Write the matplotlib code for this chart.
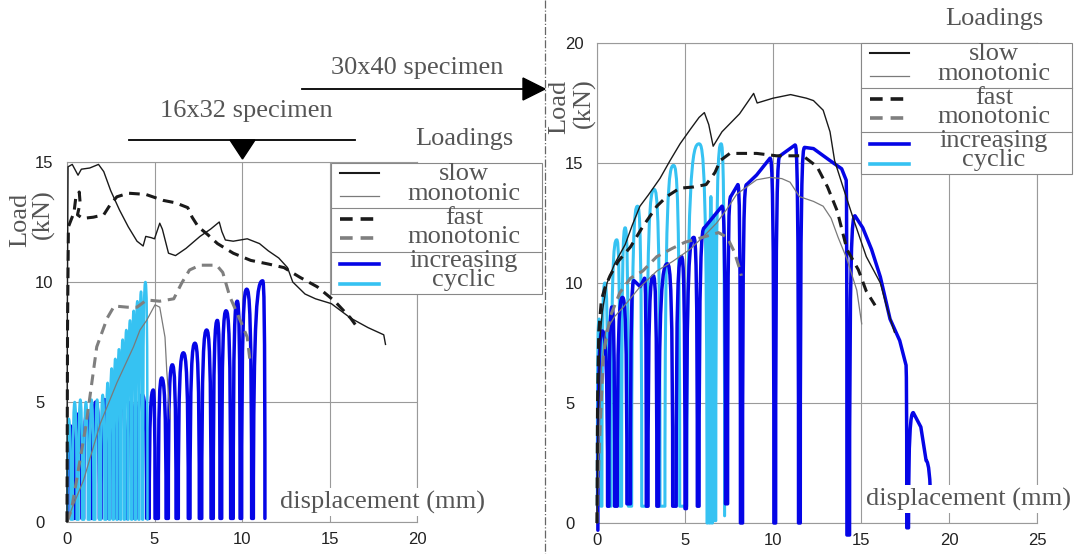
"""Load-displacement curves for 16x32 and 30x40 specimens under three loadings."""

from __future__ import annotations

import matplotlib

matplotlib.use("Agg")

import matplotlib.pyplot as plt
import numpy as np
from matplotlib.patches import PathPatch, Polygon, Rectangle
from matplotlib.path import Path

# ---------------- 16x32 specimen (left panel) ----------------
left_slow_a_x = [0.0, 0.02, 0.06, 0.3, 0.63, 0.82, 1.3, 1.8, 2.1, 2.5, 3.0, 3.5, 4.0, 4.35,
                 4.5, 4.8, 5.0, 5.3, 5.45, 5.8, 6.2, 6.8, 7.6, 8.2, 8.7, 8.85, 9.05, 9.5,
                 10.3, 11.0, 11.5, 12.1, 12.6, 12.9, 13.6, 14.2, 15.1, 16.2, 17.2, 18.1, 18.2]
left_slow_a_y = [0.0, 9.0, 14.8, 14.9, 14.45, 14.7, 14.75, 14.9, 14.6, 13.8, 13.0, 12.3, 11.7,
                 11.5, 11.9, 11.85, 11.8, 12.45, 12.2, 11.2, 11.1, 11.4, 11.9, 12.2, 12.5, 12.1,
                 11.75, 11.7, 11.8, 11.6, 11.3, 11.0, 10.6, 10.0, 9.5, 9.3, 9.1, 8.5, 8.1, 7.8, 7.4]
left_slow_b_x = [0.0, 0.3, 0.95, 1.9, 2.85, 3.8, 4.17, 4.55, 5.03, 5.3, 5.6, 5.7, 5.9]
left_slow_b_y = [0.0, 0.6, 1.75, 4.1, 5.8, 7.3, 8.0, 8.4, 9.05, 8.95, 7.7, 6.3, 4.3]
left_fast_a_x = [0.0, 0.03, 0.08, 0.4, 0.5, 0.7, 0.75, 0.6, 0.9, 1.5, 2.1, 2.45, 2.85, 3.5,
                 4.5, 5.5, 6.2, 6.9, 7.15, 7.5, 8.0, 8.6, 9.5, 10.5, 11.5, 12.4, 13.3, 14.3,
                 15.3, 16.2, 16.6]
left_fast_a_y = [0.0, 8.0, 12.3, 12.9, 13.5, 13.75, 13.3, 12.8, 12.65, 12.7, 12.8, 13.2, 13.55,
                 13.7, 13.65, 13.4, 13.3, 13.1, 12.7, 12.3, 12.0, 11.6, 11.2, 10.9, 10.75, 10.6,
                 10.2, 9.8, 9.2, 8.5, 8.1]
left_fast_b_x = [0.0, 0.25, 0.55, 1.1, 1.7, 2.3, 2.7, 3.45, 4.0, 4.55, 5.3, 6.1, 6.55, 7.0,
                 7.6, 8.55, 8.9, 9.3, 9.9, 10.3, 10.45]
left_fast_b_y = [0.0, 0.5, 1.75, 4.1, 7.3, 8.5, 9.0, 8.95, 8.95, 9.25, 9.2, 9.3, 9.95, 10.5,
                 10.7, 10.7, 10.4, 9.4, 8.4, 7.7, 6.75]

# cycles: left foot, right foot, peak(s) and the load the curve comes back to
left_cyc_a_left = [0.05, 0.45, 0.95, 1.45, 1.95, 2.45, 2.95, 3.45, 3.95, 4.70, 5.22, 5.79,
                   6.36, 7.03, 7.70, 8.36, 8.84, 9.50, 9.98, 10.65]
left_cyc_a_right = [0.35, 0.85, 1.35, 1.85, 2.35, 2.85, 3.35, 3.85, 4.55, 5.03, 5.66, 6.23,
                    6.93, 7.56, 8.23, 8.74, 9.35, 9.89, 10.55, 11.31]
left_cyc_a_peak_x = [0.2, 0.65, 1.15, 1.65, 2.15, 2.65, 3.15, 3.65, 4.3, 4.93, 5.41, 6.02,
                     6.65, 7.31, 7.98, 8.59, 9.09, 9.73, 10.27, 11.18]
left_cyc_a_peak_y = [4.0, 4.5, 4.6, 5.0, 5.1, 5.0, 5.0, 5.0, 5.3, 5.5, 6.0, 6.55, 7.05, 7.45,
                     8.0, 8.4, 8.8, 9.2, 9.7, 10.05]
left_cyc_a_valley = 0.15

left_cyc_b_left = [0.02, 0.33, 0.66, 0.98, 1.30, 1.62, 1.94, 2.24, 2.46, 2.67, 2.88, 3.09,
                   3.30, 3.51, 3.72, 3.93, 4.14, 4.35]
left_cyc_b_right = [0.22, 0.55, 0.87, 1.19, 1.51, 1.83, 2.14, 2.40, 2.62, 2.83, 3.04, 3.25,
                    3.46, 3.67, 3.88, 4.09, 4.30, 4.60]
left_cyc_b_peak_x = [0.10, 0.44, 0.76, 1.08, 1.40, 1.72, 2.04, 2.32, 2.55, 2.76, 2.97, 3.18,
                     3.39, 3.60, 3.81, 4.02, 4.23, 4.48]
left_cyc_b_peak_y = [4.3, 5.0, 5.1, 5.0, 5.1, 5.1, 5.3, 5.8, 6.4, 6.8, 7.2, 7.6, 8.0, 8.4,
                     8.8, 9.2, 9.6, 10.0]
left_cyc_b_valley = 0.1

# ---------------- 30x40 specimen (right panel) ----------------
right_slow_a_x = [0.0, 0.05, 0.15, 0.3, 0.57, 1.0, 1.6, 2.0, 2.44, 2.92, 3.58, 4.15, 4.72,
                  5.3, 5.8, 6.1, 6.35, 6.6, 7.1, 8.1, 8.9, 9.1, 10.0, 11.0, 11.9, 12.3, 12.85,
                  13.24, 13.5, 14.0, 14.6, 15.3, 16.1, 16.5, 16.9]
right_slow_a_y = [0.0, 4.0, 7.5, 8.8, 10.0, 10.8, 11.6, 12.4, 13.2, 13.67, 14.36, 15.1, 15.8,
                  16.4, 16.9, 17.1, 16.6, 15.7, 16.3, 17.05, 17.9, 17.5, 17.7, 17.85, 17.7,
                  17.6, 17.2, 16.3, 15.1, 13.95, 12.6, 11.1, 10.0, 8.9, 7.95]
right_slow_b_x = [0.0, 0.1, 0.25, 0.5, 1.0, 1.5, 2.4, 3.4, 4.3, 5.28, 6.0, 6.8, 7.4, 7.94,
                  8.5, 9.07, 9.83, 10.5, 10.97, 11.5, 12.3, 12.85, 13.3, 13.7, 14.2, 14.76, 15.04]
right_slow_b_y = [0.0, 3.0, 6.5, 8.0, 8.6, 9.0, 9.8, 10.5, 10.9, 11.4, 11.9, 12.5, 13.1, 13.7,
                  14.0, 14.3, 14.4, 14.35, 14.2, 13.6, 13.4, 13.2, 12.7, 11.9, 11.0, 9.7, 8.3]
right_fast_a_x = [0.0, 0.03, 0.1, 0.25, 0.45, 0.74, 1.2, 1.9, 2.6, 3.4, 3.96, 4.7, 5.47, 6.2,
                  6.7, 7.0, 7.55, 9.07, 10.2, 11.7, 12.5, 13.1, 13.65, 14.2, 14.85, 15.3, 15.8]
right_fast_a_y = [0.0, 5.0, 8.0, 9.3, 9.8, 10.3, 10.9, 11.5, 12.35, 13.2, 13.6, 13.95, 14.0,
                  14.1, 14.6, 15.1, 15.4, 15.4, 15.3, 15.3, 14.85, 14.0, 13.0, 11.4, 10.55,
                  9.66, 9.07]
right_fast_b_x = [0.0, 0.15, 0.36, 0.75, 1.3, 1.9, 2.6, 3.4, 4.3, 5.0, 6.0, 6.9, 7.4, 7.8,
                  8.1, 8.2]
right_fast_b_y = [0.0, 3.5, 7.0, 8.6, 9.6, 10.2, 10.5, 11.1, 11.45, 11.7, 11.9, 12.1, 11.9,
                  11.3, 10.6, 10.3]

right_cyc_a_left = [0.05, 0.68, 1.15, 1.9, 2.9, 3.5, 4.5, 5.08, 5.8, 7.42, 8.27, 10.15, 11.55,
                    14.35, 17.7]
right_cyc_a_right = [0.6, 1.0, 1.7, 2.8, 3.4, 4.3, 5.0, 5.7, 7.3, 8.15, 10.05, 11.45, 14.2,
                     17.6, 18.95]
right_cyc_a_peak_x = [[0.3], [0.85], [1.45], [2.1, 2.45, 2.7], [3.2], [4.0], [4.8], [5.5],
                      [6.1, 6.6, 7.1], [7.6, 8.0], [8.5, 9.07, 9.83], [10.4, 11.25],
                      [11.8, 12.3, 13.24, 13.9, 14.15],
                      [14.66, 15.1, 15.6, 16.1, 16.65, 17.2, 17.55], [17.97, 18.4, 18.7]]
right_cyc_a_peak_y = [[8.0], [9.0], [9.4], [10.1, 9.85, 10.2], [10.3], [10.8], [11.1], [11.9],
                      [12.3, 12.75, 13.2], [13.6, 14.1], [14.1, 14.5, 15.2], [15.3, 15.75],
                      [15.65, 15.6, 15.1, 14.76, 14.3],
                      [12.8, 12.3, 11.4, 10.25, 8.5, 7.6, 6.6], [4.6, 4.0, 2.6]]
right_cyc_a_valley = [-0.3, 0.7, 0.7, 0.8, 0.7, 0.7, 0.7, 0.6, 0.7, 0.8, 0.0, 0.0, 0.0, -0.5,
                      -0.2, 0.8]

right_cyc_b_left = [0.02, 0.28, 0.8, 1.40, 1.97, 2.82, 3.86, 5.10, 6.28, 6.42, 6.56, 6.75]
right_cyc_b_right = [0.22, 0.62, 1.31, 1.78, 2.54, 3.58, 4.70, 6.25, 6.38, 6.52, 6.68, 7.25]
right_cyc_b_peak_x = [0.12, 0.45, 1.12, 1.60, 2.30, 3.25, 4.35, 5.80, 6.33, 6.47, 6.62, 7.05]
right_cyc_b_peak_y = [8.5, 10.0, 11.8, 12.3, 13.2, 13.9, 14.9, 15.8, 12.5, 13.6, 12.8, 15.8]
right_cyc_b_valley = [0.7, 0.7, 0.7, 0.7, 0.7, 0.7, 0.7, 0.7, 0.0, 0.0, 0.0, 0.1, 0.3]

left_x_ticks = [0, 5, 10, 15, 20]
left_y_ticks = [0, 5, 10, 15]
right_x_ticks = [0, 5, 10, 15, 20, 25]
right_y_ticks = [0, 5, 10, 15, 20]

legend_words = ["slow", "monotonic", "fast", "monotonic", "increasing", "cyclic"]

# ---------------- styles ----------------
SERIF = "Liberation Serif"
TEXT_GREY = "#555555"
GRID_GREY = "#9a9a9a"
TEXT_SIZE = 19
DASH = (0, (3.5, 2.2))
SLOW_A = dict(color="#1a1a1a", lw=1.0, ls="-")
SLOW_B = dict(color="#7a7a7a", lw=0.9, ls="-")
FAST_A = dict(color="#1a1a1a", lw=2.2, ls=DASH)
FAST_B = dict(color="#7f7f7f", lw=2.2, ls=DASH)
CYC_A = dict(color="#0505e6", lw=2.5, ls="-")
CYC_B = dict(color="#36c2f2", lw=2.2, ls="-")
BEND = 0.8  # how far below a peak the legs start to round over (kN)

plt.rcParams["font.family"] = ["Liberation Sans", "DejaVu Sans"]


def cycle_path(left, right, peak_x, peak_y, valley) -> Path:
    """Build one smooth path of load/unload cycles from feet, peaks and valleys."""
    count = len(left)
    valley = np.broadcast_to(np.asarray(valley, dtype=float), (count + 1,))
    verts: list[tuple[float, float]] = []
    codes: list[int] = []
    for index in range(count):
        tops_x = np.atleast_1d(peak_x[index])
        tops_y = np.atleast_1d(peak_y[index])
        x0, x1 = left[index], right[index]
        b0, b1 = valley[index], valley[index + 1]
        verts.append((x0, b0))
        codes.append(Path.MOVETO if index == 0 else Path.LINETO)
        verts += [(x0, max(b0, tops_y[0] - BEND)),
                  (tops_x[0] - 0.55 * (tops_x[0] - x0), tops_y[0]),
                  (tops_x[0], tops_y[0])]
        codes += [Path.CURVE4] * 3
        for top_x, top_y in zip(tops_x[1:], tops_y[1:]):
            verts.append((top_x, top_y))
            codes.append(Path.LINETO)
        verts += [(tops_x[-1] + 0.55 * (x1 - tops_x[-1]), tops_y[-1]),
                  (x1, max(b1, tops_y[-1] - BEND)),
                  (x1, b1)]
        codes += [Path.CURVE4] * 3
    return Path(verts, codes)


def draw_cycles(axis, left, right, peak_x, peak_y, valley, style, zorder, lw=None) -> None:
    patch = PathPatch(
        cycle_path(left, right, peak_x, peak_y, valley),
        fill=False,
        edgecolor=style["color"],
        lw=lw or style["lw"],
        joinstyle="round",
        capstyle="round",
        clip_on=False,
        zorder=zorder,
    )
    axis.add_patch(patch)


def draw_curve(axis, x, y, style, zorder) -> None:
    axis.plot(x, y, color=style["color"], lw=style["lw"], ls=style["ls"],
              solid_joinstyle="round", clip_on=False, zorder=zorder)


def setup_axis(axis, x_ticks, y_ticks) -> None:
    axis.set_xlim(x_ticks[0], x_ticks[-1])
    axis.set_ylim(y_ticks[0], y_ticks[-1])
    axis.set_xticks(x_ticks, labels=[str(t) for t in x_ticks])
    axis.set_yticks(y_ticks, labels=[str(t) for t in y_ticks], ha="left")
    axis.tick_params(length=0, labelsize=12, labelcolor="#222222")
    axis.tick_params(axis="x", pad=7)
    axis.tick_params(axis="y", pad=23)
    axis.grid(True, color=GRID_GREY, lw=0.8)
    axis.set_axisbelow(True)
    for spine in axis.spines.values():
        spine.set_color(GRID_GREY)
        spine.set_linewidth(0.8)


def draw_legend(overlay, x0: float, y0: float) -> None:
    """Boxed legend in pixel units, top-left corner at (x0, y0)."""
    overlay.add_patch(Rectangle((x0, y0), 211, 131, facecolor="white",
                                edgecolor="#888888", lw=0.8, zorder=10))
    for offset in (45, 89):
        overlay.plot([x0, x0 + 211], [y0 + offset, y0 + offset], color="#888888",
                     lw=0.8, zorder=11)
    styles = [SLOW_A, SLOW_B, FAST_A, FAST_B, CYC_A, CYC_B]
    widths = [1.5, 0.9, 2.6, 2.6, 2.6, 2.6]
    handle_rows = [10, 33, 56, 75, 101, 121]
    text_rows = [11, 31, 55, 74, 98, 117]
    for style, width, row in zip(styles, widths, handle_rows):
        overlay.plot([x0 + 9, x0 + 48], [y0 + row, y0 + row], color=style["color"],
                     lw=width, ls=style["ls"], zorder=12)
    for word, row in zip(legend_words, text_rows):
        overlay.text(x0 + 133, y0 + row, word, ha="center", va="center", fontsize=TEXT_SIZE,
                     family=SERIF, color=TEXT_GREY, zorder=12)
    overlay.text(x0 + 133, y0 - 24, "Loadings", ha="center", va="center", fontsize=TEXT_SIZE,
                 family=SERIF, color=TEXT_GREY, zorder=12)


figure = plt.figure(figsize=(10.8, 5.54), dpi=100)
axis_left = figure.add_axes([67 / 1080, 32 / 554, 350 / 1080, 360 / 554])
axis_right = figure.add_axes([597 / 1080, 31 / 554, 440 / 1080, 480 / 554])
setup_axis(axis_left, left_x_ticks, left_y_ticks)
setup_axis(axis_right, right_x_ticks, right_y_ticks)

draw_cycles(axis_left, left_cyc_a_left, left_cyc_a_right, left_cyc_a_peak_x,
            left_cyc_a_peak_y, left_cyc_a_valley, CYC_A, 3)
draw_cycles(axis_left, left_cyc_b_left, left_cyc_b_right, left_cyc_b_peak_x,
            left_cyc_b_peak_y, left_cyc_b_valley, CYC_B, 4, lw=1.8)
draw_curve(axis_left, left_slow_b_x, left_slow_b_y, SLOW_B, 5)
draw_curve(axis_left, left_fast_b_x, left_fast_b_y, FAST_B, 5)
draw_curve(axis_left, left_fast_a_x, left_fast_a_y, FAST_A, 6)
draw_curve(axis_left, left_slow_a_x, left_slow_a_y, SLOW_A, 6)

draw_cycles(axis_right, right_cyc_b_left, right_cyc_b_right, right_cyc_b_peak_x,
            right_cyc_b_peak_y, right_cyc_b_valley, CYC_B, 3)
draw_cycles(axis_right, right_cyc_a_left, right_cyc_a_right, right_cyc_a_peak_x,
            right_cyc_a_peak_y, right_cyc_a_valley, CYC_A, 4)
draw_curve(axis_right, right_slow_b_x, right_slow_b_y, SLOW_B, 5)
draw_curve(axis_right, right_fast_b_x, right_fast_b_y, FAST_B, 5)
draw_curve(axis_right, right_fast_a_x, right_fast_a_y, FAST_A, 6)
draw_curve(axis_right, right_slow_a_x, right_slow_a_y, SLOW_A, 6)

# overlay in pixel units for the annotations and the boxed legends
overlay = figure.add_axes([0, 0, 1, 1])
overlay.set_xlim(0, 1080)
overlay.set_ylim(554, 0)
overlay.axis("off")

overlay.plot([545, 545], [0, 554], color="#666666", lw=0.9, ls="-.")

overlay.plot([129, 355], [140, 140], color="black", lw=1.3)
overlay.add_patch(Polygon([(230, 140), (255, 140), (242.5, 159)], closed=True, color="black"))
overlay.text(246, 111, "16x32 specimen", ha="center", va="center", fontsize=TEXT_SIZE,
             family=SERIF, color=TEXT_GREY)

overlay.plot([302, 527], [89, 89], color="black", lw=1.3)
overlay.add_patch(Polygon([(523, 78), (523, 100), (545, 89)], closed=True, color="black"))
overlay.text(417, 68, "30x40 specimen", ha="center", va="center", fontsize=TEXT_SIZE,
             family=SERIF, color=TEXT_GREY)

for x_pos, y_pos, word in [(20, 220, "Load"), (43, 214, "(kN)"),
                           (559, 107, "Load"), (584, 103, "(kN)")]:
    overlay.text(x_pos, y_pos, word, rotation=90, ha="center", va="center",
                 fontsize=TEXT_SIZE, family=SERIF, color=TEXT_GREY)

for x_pos, y_pos in [(383, 502), (969, 499)]:
    overlay.text(x_pos, y_pos, "displacement (mm)", ha="center", va="center",
                 fontsize=TEXT_SIZE, family=SERIF, color=TEXT_GREY, zorder=12,
                 bbox=dict(facecolor="white", edgecolor="none", pad=1.5))

draw_legend(overlay, 331, 163)
draw_legend(overlay, 861, 43)

figure.savefig("out.png", dpi=100)
plt.close(figure)
